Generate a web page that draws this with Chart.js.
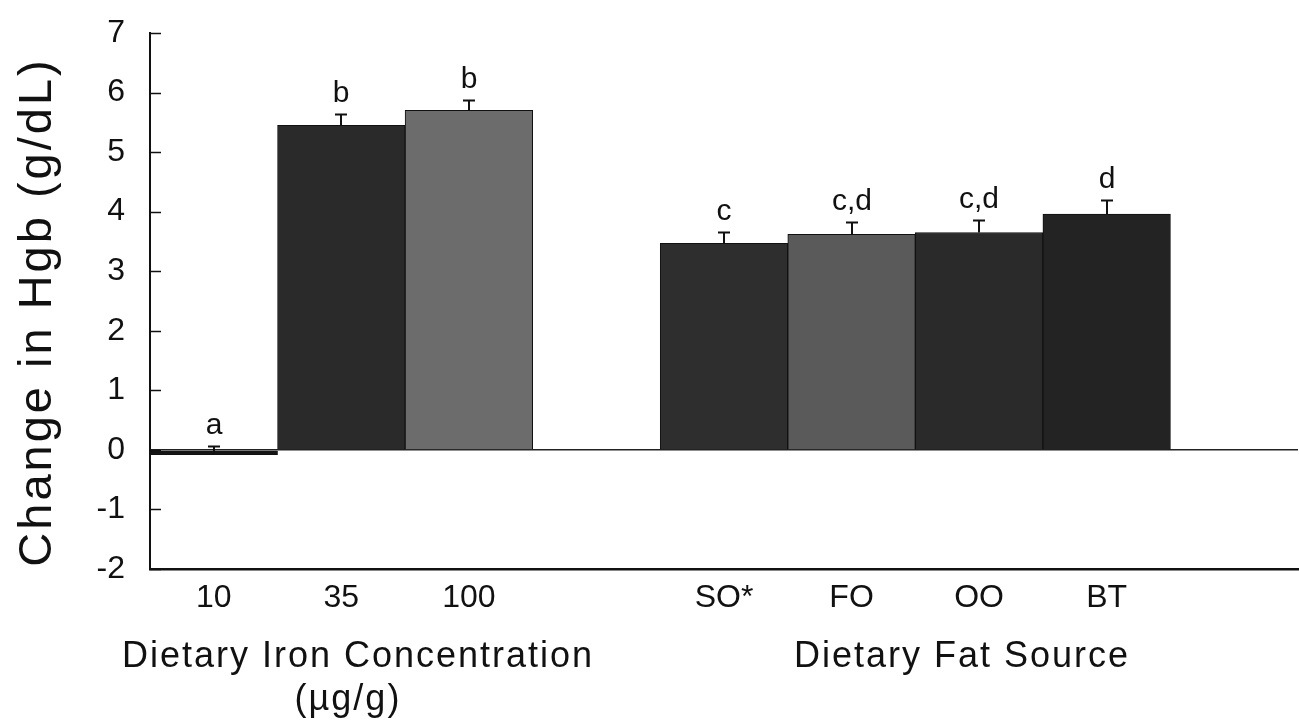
<!DOCTYPE html>
<html>
<head>
<meta charset="utf-8">
<script src="https://cdn.jsdelivr.net/npm/chart.js@4/dist/chart.umd.min.js"></script>
<style>
html, body { margin: 0; padding: 0; background: #fff; }
canvas { display: block; }
</style>
</head>
<body>
<canvas id="hgb-chart" width="1299" height="724"></canvas>
<script>
/* ── Data ───────────────────────────────────────────────────── */
var categories = ['10', '35', '100', '', 'SO*', 'FO', 'OO', 'BT', ''];
var hgbChange  = [-0.08, 5.45, 5.70, null, 3.47, 3.62, 3.65, 3.96, null];
var hgbError   = [0.15, 0.19, 0.17, null, 0.19, 0.21, 0.21, 0.23, null];
var sigLetters = ['a', 'b', 'b', '', 'c', 'c,d', 'c,d', 'd', ''];
var yTicks     = [-2, -1, 0, 1, 2, 3, 4, 5, 6, 7];

var barColors  = ['#141414', '#2a2a2a', '#6c6c6c', '#000', '#2e2e2e', '#5a5a5a', '#2a2a2a', '#232323', '#000'];
var FONT = "'Liberation Sans', Arial, sans-serif";

/* ── Error bars, significance letters, inward ticks, labels ─── */
var extrasPlugin = {
    id: 'extras',
    afterDraw: function (chart) {
        var ctx  = chart.ctx;
        var ys   = chart.scales.y;
        var area = chart.chartArea;
        var meta = chart.getDatasetMeta(0);

        ctx.save();

        // inward tick marks on the y axis
        ctx.strokeStyle = '#111';
        ctx.lineWidth = 1.5;
        yTicks.forEach(function (v) {
            var py = Math.round(ys.getPixelForValue(v)) + 0.5;
            ctx.beginPath();
            ctx.moveTo(area.left, py);
            ctx.lineTo(area.left + 11, py);
            ctx.stroke();
        });

        // error bars (upper only) + letters
        ctx.lineWidth = 2;
        ctx.fillStyle = '#111';
        ctx.font = '30px ' + FONT;
        ctx.textAlign = 'center';
        ctx.textBaseline = 'alphabetic';
        meta.data.forEach(function (bar, i) {
            if (hgbChange[i] === null) return;
            var x   = Math.round(bar.x);
            var y0  = ys.getPixelForValue(hgbChange[i]);
            var y1  = Math.round(ys.getPixelForValue(hgbChange[i] + hgbError[i])) + 0.5;
            ctx.beginPath();
            ctx.moveTo(x, y0);
            ctx.lineTo(x, y1);
            ctx.moveTo(x - 6, y1);
            ctx.lineTo(x + 6, y1);
            ctx.stroke();
            if (sigLetters[i]) ctx.fillText(sigLetters[i], x, y1 - 13);
        });

        // axis titles (stretched a bit like the original)
        ctx.letterSpacing = '2px';
        ctx.fillStyle = '#111';
        ctx.font = '36px ' + FONT;
        ctx.fillText('Dietary Iron Concentration', 358, 667);
        ctx.fillText('(\u00b5g/g)', 348, 710);
        ctx.fillText('Dietary Fat Source', 962, 667);

        ctx.letterSpacing = '3px';
        ctx.translate(51, 312);
        ctx.rotate(-Math.PI / 2);
        ctx.font = '47px ' + FONT;
        ctx.fillText('Change in Hgb (g/dL)', 0, 0);

        ctx.restore();
    }
};

/* ── Chart ──────────────────────────────────────────────────── */
new Chart(document.getElementById('hgb-chart'), {
    type: 'bar',
    data: {
        labels: categories,
        datasets: [{
            data: hgbChange,
            backgroundColor: barColors,
            borderColor: '#111',
            borderWidth: 1,
            barPercentage: 1,
            categoryPercentage: 1,
        }],
    },
    options: {
        responsive: false,
        animation: false,
        events: [],
        layout: { padding: { top: 33, right: 1, left: 0, bottom: 0 } },
        plugins: {
            legend: { display: false },
            tooltip: { enabled: false },
        },
        scales: {
            x: {
                grid: { color: 'transparent', drawTicks: false },
                border: { color: '#111', width: 2.5 },
                ticks: { color: '#111', font: { family: FONT, size: 32 }, padding: 10, maxRotation: 0, autoSkip: false },
                afterFit: function (scale) { scale.height = 155; },
            },
            y: {
                min: -2,
                max: 7,
                grid: {
                    drawTicks: false,
                    lineWidth: 1.5,
                    color: function (c) { return c.tick && c.tick.value === 0 ? '#222' : 'transparent'; },
                },
                border: { color: '#111', width: 2 },
                ticks: { stepSize: 1, color: '#111', font: { family: FONT, size: 32 }, padding: 25 },
                afterFit: function (scale) {
                    scale.width = 150;
                    scale.paddingTop = 0;
                    scale.paddingBottom = 0;
                },
            },
        },
    },
    plugins: [extrasPlugin],
});
</script>
</body>
</html>
